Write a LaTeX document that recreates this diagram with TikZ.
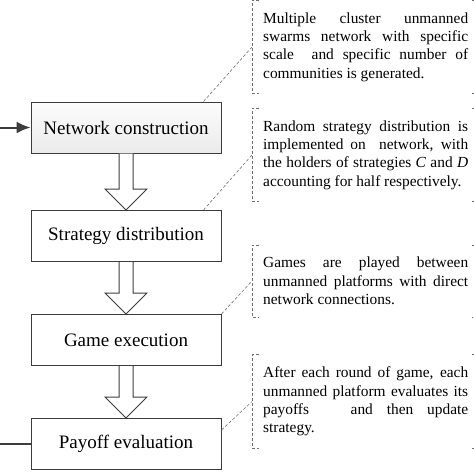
\documentclass[tikz,border=0pt]{standalone}
\usepackage{fontspec}
\setmainfont{Liberation Serif}
\usepackage{xcolor}
\usetikzlibrary{calc, arrows.meta}

\definecolor{framegray}{HTML}{3C3C3C}
\definecolor{dashgray}{HTML}{6E6E6E}

\begin{document}
\begin{tikzpicture}[x=1pt, y=-1pt,
  stage/.style={draw=framegray, line width=1pt, fill=white, inner sep=0pt,
    minimum width=190pt, minimum height=51pt,
    font=\fontsize{19}{22}\selectfont},
  note/.style={anchor=west, text width=205pt, align=justify,
    inner xsep=11pt, inner ysep=12pt,
    font=\fontsize{15.4}{18.3}\selectfont},
  bracket/.style={draw=dashgray, densely dashed, line width=0.6pt},
  hollow/.style={draw=framegray, fill=white, line width=1pt, line join=miter},
  feed/.style={draw=framegray, line width=2pt}]

%% ─── Canvas ─────────────────────────────────────────────────
\useasboundingbox (0,0) rectangle (474,474);

%% ─── Process stages ─────────────────────────────────────────
\node[stage, top color=gray!2, bottom color=gray!16] (net) at (126,127.5)
  {Network construction};
\node[stage] (strat) at (126,236) {Strategy distribution};
\node[stage] (game) at (126,340) {Game execution};
\node[stage] (pay) at (126,444) {Payoff evaluation};

%% ─── Hollow arrows between stages ───────────────────────────
\draw[hollow] ($(net.south)+(-7,0)$) -- ($(strat.north)+(-7,-21)$)
  -- ($(strat.north)+(-21,-21)$) -- (strat.north)
  -- ($(strat.north)+(21,-21)$) -- ($(strat.north)+(7,-21)$)
  -- ($(net.south)+(7,0)$);
\draw[hollow] ($(strat.south)+(-7,0)$) -- ($(game.north)+(-7,-21)$)
  -- ($(game.north)+(-21,-21)$) -- (game.north)
  -- ($(game.north)+(21,-21)$) -- ($(game.north)+(7,-21)$)
  -- ($(strat.south)+(7,0)$);
\draw[hollow] ($(game.south)+(-7,0)$) -- ($(pay.north)+(-7,-21)$)
  -- ($(pay.north)+(-21,-21)$) -- (pay.north)
  -- ($(pay.north)+(21,-21)$) -- ($(pay.north)+(7,-21)$)
  -- ($(game.south)+(7,0)$);

%% ─── Loop ends at the left edge ─────────────────────────────
\coordinate (loopin) at (0,127.5);
\coordinate (loopout) at (0,444);
\draw[feed, -{Latex[length=14pt, width=12pt]}] (loopin) -- (net.west);
\draw[feed] (pay.west) -- (loopout);

%% ─── Explanations ───────────────────────────────────────────
\node[note] (netnote) at (252,47)
  {Multiple cluster unmanned\linebreak
   swarms network with specific\linebreak
   scale~ and specific number of\linebreak
   communities~is generated.};
\node[note] (stratnote) at (252,155)
  {Random strategy distribution is\linebreak
   implemented on~ network, with\linebreak
   the holders of strategies \textit{C} and \textit{D}\linebreak
   accounting for half respectively.};
\node[note] (gamenote) at (252,281)
  {Games are played between\linebreak
   unmanned platforms with direct\linebreak
   network connections.};
\node[note] (paynote) at (252,401.5)
  {After each round of game, each\linebreak
   unmanned platform evaluates its\linebreak
   payoffs~~ and then update\linebreak
   strategy.};

%% Brackets round the explanations
\draw[bracket] ($(netnote.north west)+(7,0)$) -- (netnote.north west)
  -- (netnote.south west) -- ($(netnote.south west)+(7,0)$);
\draw[bracket] ($(netnote.north east)+(-7,0)$) -- (netnote.north east)
  -- (netnote.south east) -- ($(netnote.south east)+(-7,0)$);
\draw[bracket] ($(stratnote.north west)+(7,0)$) -- (stratnote.north west)
  -- (stratnote.south west) -- ($(stratnote.south west)+(7,0)$);
\draw[bracket] ($(stratnote.north east)+(-7,0)$) -- (stratnote.north east)
  -- (stratnote.south east) -- ($(stratnote.south east)+(-7,0)$);
\draw[bracket] ($(gamenote.north west)+(7,0)$) -- (gamenote.north west)
  -- (gamenote.south west) -- ($(gamenote.south west)+(7,0)$);
\draw[bracket] ($(gamenote.north east)+(-7,0)$) -- (gamenote.north east)
  -- (gamenote.south east) -- ($(gamenote.south east)+(-7,0)$);
\draw[bracket] ($(paynote.north west)+(7,0)$) -- (paynote.north west)
  -- (paynote.south west) -- ($(paynote.south west)+(7,0)$);
\draw[bracket] ($(paynote.north east)+(-7,0)$) -- (paynote.north east)
  -- (paynote.south east) -- ($(paynote.south east)+(-7,0)$);

%% Dashed leaders from stages to explanations
\draw[bracket] ($(net.north east)+(-18,0)$) -- (netnote.west);
\draw[bracket] ($(strat.north east)+(-18,0)$) -- (stratnote.west);
\draw[bracket] (game.north east) -- (gamenote.west);
\draw[bracket] ($(pay.east)+(0,-14)$) -- (paynote.west);

\end{tikzpicture}
\end{document}
